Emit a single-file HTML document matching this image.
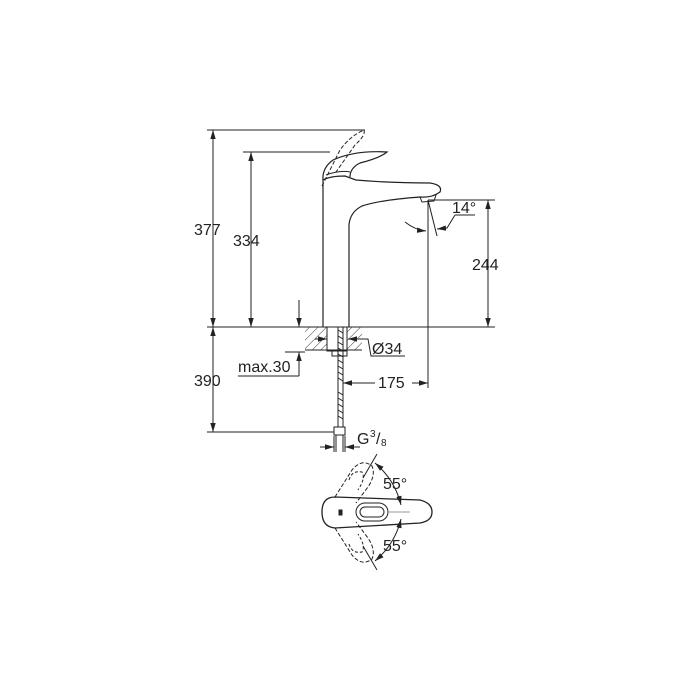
<!DOCTYPE html>
<html><head><style>body{margin:0;background:#fff}svg{display:block}text{font-family:"Liberation Sans",sans-serif;fill:#222}</style></head>
<body>
<svg width="700" height="700" viewBox="0 0 700 700" xmlns="http://www.w3.org/2000/svg">
<defs>
<marker id="a" viewBox="0 0 10 10" refX="10" refY="5" markerWidth="9" markerHeight="9" orient="auto-start-reverse"><path d="M0,2 L10,5 L0,8z" fill="#222"/></marker>
<pattern id="h" width="6" height="6" patternUnits="userSpaceOnUse" patternTransform="rotate(45)"><line x1="0" y1="0" x2="0" y2="6" stroke="#333" stroke-width="1"/></pattern>
</defs>
<g stroke="#222" stroke-width="1" fill="none">
<line x1="207" y1="130" x2="365" y2="130"/>
<line x1="243" y1="152" x2="330" y2="152"/>
<line x1="207" y1="327" x2="495" y2="327"/>
<line x1="207" y1="432" x2="335" y2="432"/>
<line x1="428" y1="200" x2="495" y2="200"/>
<line x1="213" y1="130" x2="213" y2="327" marker-start="url(#a)" marker-end="url(#a)"/>
<line x1="213" y1="327" x2="213" y2="432" marker-start="url(#a)" marker-end="url(#a)"/>
<line x1="251" y1="152" x2="251" y2="327" marker-start="url(#a)" marker-end="url(#a)"/>
<line x1="488" y1="200" x2="488" y2="327" marker-start="url(#a)" marker-end="url(#a)"/>
<line x1="299" y1="300" x2="299" y2="327" marker-end="url(#a)"/>
<line x1="299" y1="376" x2="299" y2="352" marker-end="url(#a)"/>
<polyline points="238,376 299,376"/>
<line x1="285" y1="352" x2="305" y2="352"/>
<line x1="428" y1="200" x2="428" y2="388"/>
<line x1="375" y1="383" x2="343" y2="383" marker-end="url(#a)"/>
<line x1="412" y1="383" x2="428" y2="383" marker-end="url(#a)"/>
<line x1="320" y1="447" x2="334" y2="447" marker-end="url(#a)"/>
<line x1="360" y1="447" x2="345" y2="447" marker-end="url(#a)"/>
<line x1="334" y1="436" x2="334" y2="452"/><line x1="345" y1="436" x2="345" y2="452"/>
<line x1="428" y1="200" x2="437" y2="236"/>
<path d="M405,222 Q415,230 426,231" marker-end="url(#a)"/>
<path d="M455,215 L447,228 L437,229" marker-end="url(#a)"/>
<line x1="455" y1="215" x2="475" y2="215"/>
<line x1="315" y1="339" x2="327" y2="339" marker-end="url(#a)"/>
<line x1="360" y1="339" x2="348" y2="339" marker-end="url(#a)"/>
<polyline points="348,339 368,339 371,356 405,356"/>
<path d="M323,327 L323,180 Q330,176 345,176 L356,180 Q390,183 430,183 Q443,185 440,192 Q432,198 420,197 Q380,200 362,206 Q350,212 349,225 L349,327" stroke-width="1.2"/>
<path d="M420,197 L422,202 L434,201 L436,195"/>
<path d="M323,180 Q322,168 333,160 Q355,150 387,152 Q380,158 360,163 Q350,168 350,177" stroke-width="1.2"/>
<path d="M326,175 Q340,170 350,172"/>
<path d="M322,186 L340,150 Q350,136 364,130 Q366,135 355,145 L336,172" stroke-dasharray="4,2"/>
<rect x="305" y="327" width="57" height="23" fill="url(#h)" stroke="none"/>
<rect x="327" y="327" width="20" height="24" fill="#fff" stroke="#222"/>
<line x1="305" y1="350" x2="362" y2="350"/>
<rect x="332" y="351" width="15" height="5" fill="#fff"/>
<line x1="338" y1="327" x2="338" y2="428"/><line x1="343" y1="327" x2="343" y2="428"/>
<path d="M338,330 l5,3 M338,336 l5,3 M338,342 l5,3 M338,348 l5,3 M338,354 l5,3 M338,360 l5,3 M338,366 l5,3 M338,372 l5,3 M338,378 l5,3 M338,392 l5,3 M338,398 l5,3 M338,404 l5,3 M338,410 l5,3 M338,416 l5,3"/>
<rect x="334" y="427" width="11" height="8" fill="#fff"/>
<line x1="336" y1="435" x2="336" y2="452"/><line x1="343" y1="435" x2="343" y2="452"/>
<path d="M335,497 L420,500 Q432,503 432,512 Q432,521 420,523 L335,528 Q322,527 322,512 Q322,497 335,497 Z" stroke-width="1.3"/>
<rect x="356" y="503" width="32" height="18" rx="9"/>
<rect x="360" y="507" width="24" height="10" rx="5"/>
<line x1="388" y1="512" x2="410" y2="512" stroke="#999"/>
<rect x="339" y="510" width="3" height="5" fill="#222"/>
<path d="M335,497 L352,470 Q362,458 372,466 Q376,475 368,487 L356,503" stroke-dasharray="4,2"/>
<path d="M335,528 L352,555 Q362,567 372,559 Q376,550 368,538 L356,522" stroke-dasharray="4,2"/>
<path d="M349,480 Q352,470 362,472 Q366,478 358,490" stroke-dasharray="3,2"/>
<path d="M349,544 Q352,554 362,552 Q366,546 358,534" stroke-dasharray="3,2"/>
<line x1="377" y1="454" x2="363" y2="478"/><line x1="377" y1="570" x2="363" y2="546"/>
<path d="M375,463 Q395,480 401,505" marker-start="url(#a)" marker-end="url(#a)"/>
<path d="M375,561 Q395,544 401,519" marker-start="url(#a)" marker-end="url(#a)"/>
</g>
<g font-size="16">
<text x="194" y="235">377</text>
<text x="233" y="246">334</text>
<text x="472" y="270">244</text>
<text x="452" y="213">14°</text>
<text x="372" y="354">Ø34</text>
<text x="238" y="372">max.30</text>
<text x="378" y="388">175</text>
<text x="194" y="386">390</text>
<text x="357" y="444">G</text>
<text x="370" y="437" font-size="10">3</text>
<text x="376" y="444">/</text>
<text x="381" y="446" font-size="10">8</text>
<text x="383" y="489">55°</text>
<text x="383" y="551">55°</text>
</g>
</svg>
</body></html>
